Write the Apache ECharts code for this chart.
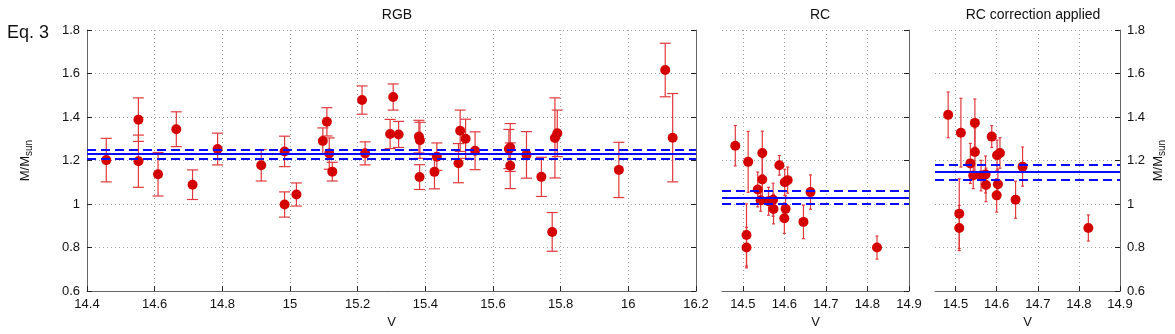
<!DOCTYPE html>
<html>
<head>
<meta charset="utf-8">
<script src="https://cdn.jsdelivr.net/npm/echarts@6/dist/echarts.min.js"></script>
<style>
  html, body { margin: 0; padding: 0; background: #fff; }
  #chart { width: 1175px; height: 334px; }
</style>
</head>
<body>
<div id="chart"></div>
<script>
// RGB panel: V magnitude, mass, 1-sigma error
const rgbV = [14.457, 14.552, 14.552, 14.610, 14.664, 14.712, 14.786, 14.915, 14.984, 14.984,
  15.019, 15.097, 15.109, 15.116, 15.125, 15.213, 15.222, 15.296, 15.305, 15.321,
  15.381, 15.384, 15.383, 15.427, 15.434, 15.498, 15.503, 15.519, 15.547, 15.647,
  15.651, 15.651, 15.699, 15.743, 15.775, 15.783, 15.790, 15.972, 16.109, 16.131];
const rgbMass = [1.202, 1.388, 1.197, 1.137, 1.344, 1.089, 1.253, 1.178, 1.242, 0.998,
  1.044, 1.290, 1.378, 1.232, 1.149, 1.478, 1.233, 1.322, 1.492, 1.320,
  1.310, 1.293, 1.124, 1.148, 1.218, 1.188, 1.337, 1.300, 1.245, 1.253,
  1.260, 1.176, 1.226, 1.125, 0.872, 1.304, 1.325, 1.157, 1.616, 1.305];
const rgbErr = [0.100, 0.100, 0.120, 0.100, 0.080, 0.068, 0.073, 0.072, 0.070, 0.058,
  0.053, 0.060, 0.065, 0.072, 0.043, 0.065, 0.053, 0.067, 0.060, 0.060,
  0.075, 0.083, 0.057, 0.078, 0.063, 0.090, 0.095, 0.090, 0.087, 0.090,
  0.110, 0.105, 0.107, 0.090, 0.089, 0.184, 0.107, 0.127, 0.123, 0.203];

// RC panels (same stars, raw and corrected masses)
const rcV = [14.482, 14.509, 14.509, 14.513, 14.536, 14.543, 14.547, 14.547, 14.562, 14.573,
  14.574, 14.588, 14.600, 14.601, 14.603, 14.608, 14.646, 14.663, 14.823];
const rcMass = [1.268, 0.800, 0.858, 1.194, 1.067, 1.017, 1.235, 1.113, 1.013, 1.020,
  0.977, 1.178, 0.935, 1.100, 0.978, 1.110, 0.918, 1.055, 0.800];
const rcErr = [0.093, 0.093, 0.143, 0.140, 0.080, 0.050, 0.100, 0.100, 0.064, 0.076,
  0.068, 0.045, 0.070, 0.060, 0.060, 0.060, 0.077, 0.079, 0.053];
const rcCorrMass = [1.410, 0.890, 0.956, 1.328, 1.187, 1.131, 1.373, 1.239, 1.131, 1.136,
  1.088, 1.310, 1.040, 1.224, 1.091, 1.235, 1.020, 1.172, 0.890];
const rcCorrErr = [0.105, 0.104, 0.160, 0.158, 0.092, 0.060, 0.110, 0.110, 0.070, 0.085,
  0.077, 0.050, 0.077, 0.070, 0.070, 0.070, 0.085, 0.090, 0.060];

// weighted mean and its uncertainty band, per panel
const fitMean = [1.229, 1.029, 1.145];
const fitLow = [1.208, 0.999, 1.111];
const fitHigh = [1.249, 1.059, 1.179];

const panelTitles = ["RGB", "RC", "RC correction applied"];
const rcTicks = [14.5, 14.6, 14.7, 14.8, 14.9];

const FONT = "Liberation Sans";
const red = "#d40000";
const barRed = "#e0383c";
const blue = "#0a0aff";

const grids = [
  { left: 87, top: 30, width: 609, height: 266 },
  { left: 722, top: 30, width: 187, height: 266 },
  { left: 935, top: 30, width: 185, height: 266 },
];

const splitDots = { show: true, lineStyle: { color: "#a0a0a0", type: [1, 3], width: 1 } };
const axisText = { color: "#111", fontFamily: FONT, fontSize: 13 };
const massName = "M/M{s|sun}";
const nameRich = {
  s: { fontSize: 10, fontFamily: FONT, color: "#111", padding: [7, 0, 0, 0] },
};

const errorBars = (capHalf) => (params, api) => {
  const x = api.value(0);
  const y = api.value(1);
  const e = api.value(2);
  const top = api.coord([x, y + e]);
  const bot = api.coord([x, y - e]);
  const style = { stroke: barRed, lineWidth: 1.2 };
  return {
    type: "group",
    children: [
      { type: "line", shape: { x1: top[0], y1: top[1], x2: bot[0], y2: bot[1] }, style },
      { type: "line", shape: { x1: top[0] - capHalf, y1: top[1], x2: top[0] + capHalf, y2: top[1] }, style },
      { type: "line", shape: { x1: bot[0] - capHalf, y1: bot[1], x2: bot[0] + capHalf, y2: bot[1] }, style },
    ],
  };
};

const xs = [rgbV, rcV, rcV];
const ys = [rgbMass, rcMass, rcCorrMass];
const es = [rgbErr, rcErr, rcCorrErr];
const caps = [5.5, 1.5, 1.5];

const xAxis = [
  {
    gridIndex: 0, type: "value", min: 14.4, max: 16.2, interval: 0.2,
    name: "V", nameLocation: "middle", nameGap: 22, nameTextStyle: axisText,
    axisLine: { show: true, lineStyle: { color: "#666", width: 1 } },
    axisTick: { show: true, inside: true, length: 5, lineStyle: { color: "#222" } },
    axisLabel: { ...axisText, margin: 7 },
    splitLine: splitDots,
  },
];
for (let g = 1; g < 3; g++) {
  xAxis.push({
    gridIndex: g, type: "value", min: 14.45, max: 14.9,
    name: "V", nameLocation: "middle", nameGap: 22, nameTextStyle: axisText,
    axisLine: { show: true, lineStyle: { color: "#666", width: 1 } },
    axisTick: { show: true, inside: true, length: 5, lineStyle: { color: "#222" }, customValues: rcTicks },
    axisLabel: { ...axisText, margin: 7, customValues: rcTicks },
    splitLine: splitDots,
  });
}

const yBase = { type: "value", min: 0.6, max: 1.8, interval: 0.2 };
const yAxis = [
  // panel 1 left
  {
    ...yBase, gridIndex: 0, position: "left",
    name: massName, nameLocation: "middle", nameGap: 53, nameRotate: 90,
    nameTextStyle: { ...axisText, rich: nameRich },
    axisLine: { show: true, lineStyle: { color: "#666" } },
    axisTick: { show: true, inside: true, length: 5, lineStyle: { color: "#222" } },
    axisLabel: { ...axisText, margin: 7 },
    splitLine: splitDots,
  },
  // panel 1 right
  {
    ...yBase, gridIndex: 0, position: "right",
    axisLine: { show: true, lineStyle: { color: "#666" } },
    axisTick: { show: true, inside: true, length: 5, lineStyle: { color: "#222" } },
    axisLabel: { show: false }, splitLine: { show: false },
  },
  // panel 2 left
  {
    ...yBase, gridIndex: 1, position: "left",
    axisLine: { show: false }, axisTick: { show: false }, axisLabel: { show: false },
    splitLine: splitDots,
  },
  // panel 2 right
  {
    ...yBase, gridIndex: 1, position: "right",
    axisLine: { show: true, lineStyle: { color: "#666" } },
    axisTick: { show: true, inside: true, length: 5, lineStyle: { color: "#222" } },
    axisLabel: { show: false }, splitLine: { show: false },
  },
  // panel 3 left
  {
    ...yBase, gridIndex: 2, position: "left",
    axisLine: { show: false }, axisTick: { show: false }, axisLabel: { show: false },
    splitLine: splitDots,
  },
  // panel 3 right
  {
    ...yBase, gridIndex: 2, position: "right",
    name: massName, nameLocation: "middle", nameGap: 30, nameRotate: 90,
    nameTextStyle: { ...axisText, rich: nameRich },
    axisLine: { show: true, lineStyle: { color: "#666" } },
    axisTick: { show: true, inside: true, length: 5, lineStyle: { color: "#222" } },
    axisLabel: { ...axisText, margin: 7 },
    splitLine: { show: false },
  },
];

const series = [];
for (let g = 0; g < 3; g++) {
  const pts = xs[g].map((v, i) => [v, ys[g][i], es[g][i]]);
  series.push({
    type: "custom",
    xAxisIndex: g, yAxisIndex: g * 2,
    renderItem: errorBars(caps[g]),
    encode: { x: 0, y: 1 },
    data: pts,
    z: 3,
    silent: true,
  });
  series.push({
    type: "scatter",
    xAxisIndex: g, yAxisIndex: g * 2,
    symbol: "circle", symbolSize: 10,
    itemStyle: { color: red, opacity: 1 },
    data: pts.map((p) => [p[0], p[1]]),
    z: 4,
    silent: true,
    markLine: {
      silent: true, symbol: "none", label: { show: false }, animation: false,
      data: [
        { yAxis: fitMean[g], lineStyle: { color: blue, width: 2, type: "solid" } },
        { yAxis: fitLow[g], lineStyle: { color: blue, width: 2, type: [9, 5] } },
        { yAxis: fitHigh[g], lineStyle: { color: blue, width: 2, type: [9, 5] } },
      ],
    },
  });
}

const titleCenters = [392, 815, 1028];
const title = panelTitles.map((t, i) => ({
  text: t, left: titleCenters[i], top: 3, textAlign: "center",
  textStyle: { fontFamily: FONT, fontSize: 14, fontWeight: "normal", color: "#111" },
}));
title.push({
  text: "Eq. 3", left: 2, top: 19,
  textStyle: { fontFamily: FONT, fontSize: 18, fontWeight: "normal", color: "#111" },
});

const chart = echarts.init(document.getElementById("chart"), null, { renderer: "canvas" });
chart.setOption({
  animation: false,
  backgroundColor: "#fff",
  title,
  grid: grids,
  xAxis,
  yAxis,
  series,
});
</script>
</body>
</html>
